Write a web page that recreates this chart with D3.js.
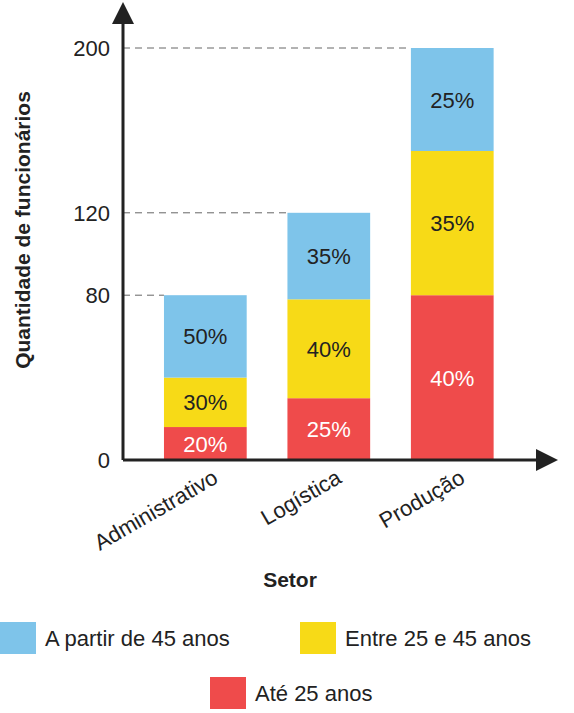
<!DOCTYPE html>
<html><head><meta charset="utf-8">
<script src="https://cdn.jsdelivr.net/npm/d3@7"></script>
<style>body{margin:0;background:#fff}text{font-family:"Liberation Sans",Arial,sans-serif}</style>
</head><body><div id="chart"></div>
<script>
// data
const setores = ['Administrativo', 'Logística', 'Produção'];
const totais = [80, 120, 200];
const ate25 = [20, 25, 40];
const entre25e45 = [30, 40, 35];
const apartir45 = [50, 35, 25];
const yTicks = [0, 80, 120, 200];
const faixas = ['Até 25 anos', 'Entre 25 e 45 anos', 'A partir de 45 anos'];
const cores = ['#ef4b4b', '#f7da17', '#7ec4ea'];

const W = 574, H = 713;
const svg = d3.select('#chart').append('svg').attr('width', W).attr('height', H);

const x = d3.scaleBand().domain(setores).range([143.6, 514]).paddingInner(0.33).paddingOuter(0.165);
const y = d3.scaleLinear().domain([0, 200]).range([460, 48]);
const x0 = 123;

// dashed guides
svg.selectAll('.guide').data(totais).enter().append('line')
    .attr('x1', x0).attr('x2', (d, i) => x(setores[i]))
    .attr('y1', d => y(d)).attr('y2', d => y(d))
    .attr('stroke', '#666').attr('stroke-dasharray', '7,5').attr('stroke-width', 1);

// stacked bars
const series = [ate25, entre25e45, apartir45];
setores.forEach(function (s, i) {
    let acc = 0;
    series.forEach(function (pct, k) {
        const v = totais[i] * pct[i] / 100;
        const g = svg.append('g');
        g.append('rect')
            .attr('x', x(s)).attr('width', x.bandwidth())
            .attr('y', y(acc + v)).attr('height', y(acc) - y(acc + v))
            .attr('fill', cores[k]);
        g.append('text')
            .attr('x', x(s) + x.bandwidth() / 2).attr('y', y(acc + v / 2) + 8)
            .attr('text-anchor', 'middle').attr('font-size', 22)
            .attr('fill', k === 0 ? '#fff' : '#222')
            .text(pct[i] + '%');
        acc += v;
    });
});

// axes
svg.append('line').attr('x1', x0).attr('x2', x0).attr('y1', 460).attr('y2', 20).attr('stroke', '#222').attr('stroke-width', 3);
svg.append('path').attr('d', `M${x0 - 11},24 L${x0},2 L${x0 + 11},24 Z`).attr('fill', '#222');
svg.append('line').attr('x1', x0).attr('x2', 540).attr('y1', 460).attr('y2', 460).attr('stroke', '#222').attr('stroke-width', 3);
svg.append('path').attr('d', `M536,449 L558,460 L536,471 Z`).attr('fill', '#222');

svg.selectAll('.tick').data(yTicks).enter().append('text')
    .attr('x', 110).attr('y', d => y(d) + 8).attr('text-anchor', 'end')
    .attr('font-size', 22).attr('fill', '#222').text(d => d);

svg.selectAll('.xl').data(setores).enter().append('text')
    .attr('transform', d => `translate(${x(d) + x.bandwidth() / 2 + 14},${482}) rotate(-30)`)
    .attr('text-anchor', 'end').attr('font-size', 22).attr('fill', '#222').text(d => d);

svg.append('text').attr('transform', 'translate(30,230) rotate(-90)')
    .attr('text-anchor', 'middle').attr('font-size', 21).attr('font-weight', 'bold').attr('fill', '#222')
    .text('Quantidade de funcionários');
svg.append('text').attr('x', 290).attr('y', 587).attr('text-anchor', 'middle')
    .attr('font-size', 21).attr('font-weight', 'bold').attr('fill', '#222').text('Setor');

// legend
const legPos = [[210, 677], [300, 622], [0, 622]];
faixas.forEach(function (f, k) {
    svg.append('rect').attr('x', legPos[k][0]).attr('y', legPos[k][1]).attr('width', 36).attr('height', 32).attr('fill', cores[k]);
    svg.append('text').attr('x', legPos[k][0] + 45).attr('y', legPos[k][1] + 24)
        .attr('font-size', 22).attr('fill', '#222').text(f);
});
</script></body></html>
